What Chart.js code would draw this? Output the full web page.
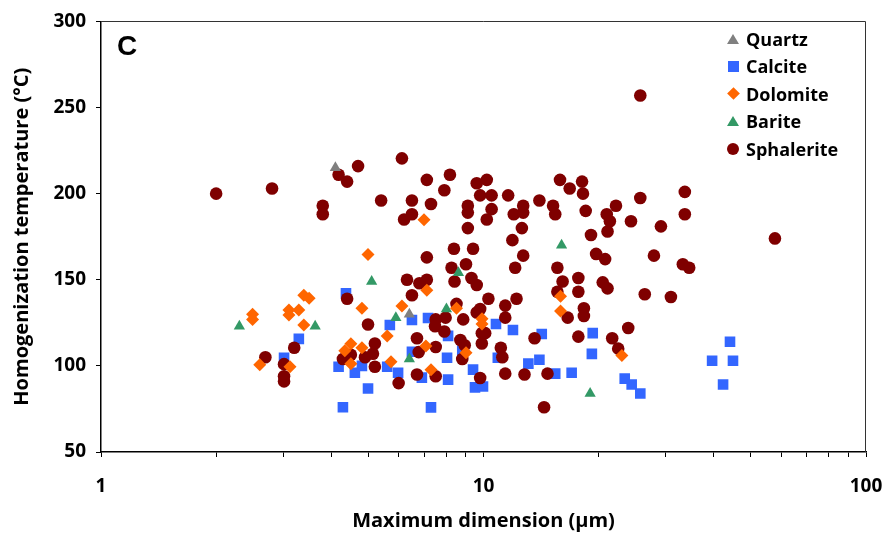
<!DOCTYPE html>
<html>
<head>
<meta charset="utf-8">
<script src="https://cdn.jsdelivr.net/npm/chart.js@4.4.0/dist/chart.umd.min.js"></script>
<style>
  html, body { margin: 0; padding: 0; background: #fff; }
  #wrap { position: relative; width: 886px; height: 538px; }
  #panel { position: absolute; left: 117px; top: 30px; line-height: 1; font: bold 28px "Liberation Sans", Arial, sans-serif; color: #000; }
  #legend { position: absolute; left: 726px; top: 25px; font: bold 18px "Open Sans", sans-serif; color: #000; }
  .item { display: flex; align-items: center; height: 27.5px; }
  .mk { width: 14px; height: 14px; margin-right: 6px; position: relative; }
  .mk div { position: absolute; }
</style>
</head>
<body>
<div id="wrap">
  <canvas id="chart" width="886" height="538"></canvas>
  <div id="panel">C</div>
  <div id="legend"></div>
</div>
<script>
// series names and colours
const mineralNames = ['Quartz', 'Calcite', 'Dolomite', 'Barite', 'Sphalerite'];

// Quartz
const quartzX = [4.1, 6.4];
const quartzY = [215, 130];

// Calcite
const calciteX = [3.29, 3.01, 4.37, 4.18, 4.61, 4.99, 4.29, 4.81, 5.69, 6.5, 7.16, 8.08, 10.78, 11.94, 14.2, 6.5, 8.03, 8.8, 10.9, 13.1,
  14.0, 5.6, 5.98, 6.9, 8.08, 9.39, 9.5, 9.97, 15.4, 17.0, 7.29, 19.3, 19.2, 23.4, 24.4, 25.7, 44.1, 39.6, 44.9, 42.3];
const calciteY = [115.7, 104.7, 142.2, 99.5, 96, 86.9, 76, 100, 123.7, 126.6, 127.8, 117.4, 124.3, 120.8, 118.5, 108.2, 104.7, 108.8, 104.7, 101.3,
  103.6, 99.5, 96, 93.2, 92, 97.8, 87.5, 88, 95.5, 96, 75.9, 119, 107, 92.6, 89.2, 84, 114, 103, 103, 89.2];

// Dolomite
const dolomiteX = [2.49, 2.49, 2.6, 3.1, 3.1, 3.29, 3.39, 3.5, 3.39, 3.12, 4.99, 4.81, 4.5, 4.81, 4.5, 4.34, 6.12, 5.6, 5.73, 7.07,
  7.29, 9.91, 9.91, 9.0, 8.5, 15.9, 15.9, 6.99, 7.11, 23.0];
const dolomiteY = [130, 127, 100.7, 132.4, 129.5, 132.4, 141, 139.3, 123.7, 99.5, 164.6, 133.5, 112.8, 110.5, 101.3, 108.8, 134.7, 117.4, 102.4, 111.6,
  97.8, 127.3, 124.3, 107.6, 133.5, 140.4, 131.8, 184.8, 143.9, 106];

// Barite
const bariteX = [2.3, 3.63, 5.1, 5.9, 8.0, 6.4, 8.6, 16.0, 19.0];
const bariteY = [123, 123, 149, 128, 133, 104, 154, 170, 84];

// Sphalerite
const sphaleriteX = [2.0, 2.8, 2.69, 3.01, 3.01, 3.01, 3.2, 3.8, 3.8, 4.18, 4.4, 4.7, 5.4, 4.4, 4.99, 4.29, 4.5, 4.9, 5.14, 5.2,
  5.2, 6.5, 8.5, 9.6, 9.8, 10.3, 11.4, 11.4, 12.2, 7.5, 7.96, 7.47, 7.9, 8.85, 6.7, 6.77, 7.5, 8.7, 8.93, 8.8,
  9.9, 10.1, 9.9, 11.1, 11.2, 13.6, 6.7, 7.5, 9.8, 11.4, 12.8, 14.7, 6.0, 14.4, 15.6, 16.6, 17.7, 6.12, 7.11, 8.17,
  7.9, 9.6, 10.2, 9.8, 10.5, 11.6, 14.0, 15.85, 16.8, 15.2, 15.4, 6.5, 7.29, 6.2, 6.5, 9.1, 9.1, 10.5, 10.2, 12.7,
  12.0, 12.7, 9.1, 12.6, 11.9, 12.7, 12.1, 8.37, 9.39, 7.11, 9.0, 8.25, 8.4, 9.3, 9.6, 6.31, 6.8, 7.11, 15.6, 16.1,
  17.7, 17.7, 18.1, 18.2, 18.5, 19.1, 21.0, 22.2, 21.4, 21.1, 25.7, 24.3, 29.1, 33.6, 33.6, 19.7, 20.8, 27.9, 33.2, 34.5,
  20.5, 21.1, 26.4, 30.9, 18.3, 18.3, 21.7, 23.9, 22.5, 25.7, 57.8];
const sphaleriteY = [200, 203, 105, 101, 94, 91, 110.5, 193, 188, 211, 207, 216, 196, 139, 124, 104, 106.5, 105, 107, 113,
  99.5, 141, 136, 131, 133, 139, 135, 128, 139, 127, 128, 123, 120, 127, 116, 108, 111, 115, 112, 104,
  119, 119, 113, 110.5, 105, 116, 95, 94, 93, 95.5, 95, 95.5, 90, 76, 143, 128, 117, 220.5, 208, 211,
  202, 206, 208, 199, 199, 199, 196, 208, 203, 193, 188, 196, 194, 185, 188, 193, 189, 191, 185, 193,
  188, 189, 180, 180, 173, 164, 157, 168, 168, 163, 159, 157, 149, 151, 147, 150, 148, 150, 157, 149,
  151, 143, 207, 200, 190, 176, 188, 193, 184, 178, 197.5, 184, 181, 201, 188, 165, 162, 164, 159, 157,
  148.5, 145, 141.6, 140, 133.5, 129, 116, 122, 110, 257, 174];

// axis ticks
const xTickValues = [1, 2, 3, 4, 5, 6, 7, 8, 9, 10, 20, 30, 40, 50, 60, 70, 80, 90, 100];
const xTickLabels = [1, 10, 100];
const yTickValues = [50, 100, 150, 200, 250, 300];

const toPoints = (xs, ys) => xs.map((x, i) => ({ x: x, y: ys[i] }));

const datasets = [
    { label: 'Quartz', data: toPoints(quartzX, quartzY), pointStyle: 'triangle', pointRadius: 6.5, backgroundColor: '#808080', order: 0 },
    { label: 'Calcite', data: toPoints(calciteX, calciteY), pointStyle: 'rect', pointRadius: 7.5, backgroundColor: '#3366ff', order: 4 },
    { label: 'Dolomite', data: toPoints(dolomiteX, dolomiteY), pointStyle: 'rectRot', pointRadius: 6.5, backgroundColor: '#ff6600', order: 2 },
    { label: 'Barite', data: toPoints(bariteX, bariteY), pointStyle: 'triangle', pointRadius: 6.5, backgroundColor: '#339966', order: 1 },
    { label: 'Sphalerite', data: toPoints(sphaleriteX, sphaleriteY), pointStyle: 'circle', pointRadius: 6.3, backgroundColor: '#7f0000', order: 3 }
];
datasets.forEach(d => {
    d.borderWidth = 0;
    d.pointBorderWidth = 0;
    d.pointHoverRadius = d.pointRadius;
});

const tickFont = { family: '"Open Sans", sans-serif', size: 19, weight: 'bold' };
const titleFont = { family: '"Open Sans", sans-serif', size: 20, weight: 'bold' };

// top and right edges of the plot box
const framePlugin = {
    id: 'frame',
    afterDraw(chart) {
        const a = chart.chartArea;
        const ctx = chart.ctx;
        ctx.save();
        ctx.strokeStyle = '#333';
        ctx.lineWidth = 1;
        ctx.beginPath();
        ctx.moveTo(a.left, Math.round(a.top) + 0.5);
        ctx.lineTo(Math.round(a.right) - 0.5, Math.round(a.top) + 0.5);
        ctx.lineTo(Math.round(a.right) - 0.5, a.bottom);
        ctx.stroke();
        ctx.restore();
    }
};

const chart = new Chart(document.getElementById('chart').getContext('2d'), {
    type: 'scatter',
    data: { datasets: datasets },
    plugins: [framePlugin],
    options: {
        responsive: false,
        animation: false,
        devicePixelRatio: 1,
        layout: { padding: { top: 18, right: 20, left: 0, bottom: 0 } },
        plugins: {
            legend: { display: false },
            tooltip: { enabled: false }
        },
        scales: {
            x: {
                type: 'logarithmic',
                min: 1,
                max: 100,
                afterBuildTicks: s => { s.ticks = xTickValues.map(v => ({ value: v })); },
                afterFit: s => { s.height = 86; s.paddingLeft = 0; s.paddingRight = 0; },
                ticks: {
                    autoSkip: false,
                    maxRotation: 0,
                    color: '#000',
                    font: tickFont,
                    padding: 18,
                    callback: v => xTickLabels.includes(v) ? String(v) : ''
                },
                grid: { drawOnChartArea: false, drawTicks: true, tickLength: 5, color: '#000', lineWidth: 1 },
                border: { display: true, color: '#000', width: 1.5 },
                title: { display: true, text: 'Maximum dimension (\u03bcm)', color: '#000', font: titleFont, padding: { top: 0, bottom: 5 } }
            },
            y: {
                min: 50,
                max: 300,
                afterBuildTicks: s => { s.ticks = yTickValues.map(v => ({ value: v })); },
                afterFit: s => { s.width = 101; },
                ticks: { color: '#000', font: tickFont, padding: 10 },
                grid: { drawOnChartArea: false, drawTicks: true, tickLength: 5, color: '#000', lineWidth: 1 },
                border: { display: true, color: '#000', width: 1.5 },
                title: { display: true, text: 'Homogenization temperature (\u00b0C)', color: '#000', font: titleFont, padding: { top: 10, bottom: 0 } }
            }
        }
    }
});

// legend in the upper right corner, built from the datasets
const legendEl = document.getElementById('legend');
mineralNames.forEach(name => {
    const ds = datasets.find(d => d.label === name);
    const row = document.createElement('div');
    row.className = 'item';
    const mk = document.createElement('div');
    mk.className = 'mk';
    const shape = document.createElement('div');
    const c = ds.backgroundColor;
    if (ds.pointStyle === 'triangle') {
        shape.style.cssText = 'left:1px;top:2px;width:0;height:0;border-left:6px solid transparent;border-right:6px solid transparent;border-bottom:10px solid ' + c;
    } else if (ds.pointStyle === 'rect') {
        shape.style.cssText = 'left:1.5px;top:1.5px;width:11px;height:11px;background:' + c;
    } else if (ds.pointStyle === 'rectRot') {
        shape.style.cssText = 'left:2.5px;top:2.5px;width:9px;height:9px;transform:rotate(45deg);background:' + c;
    } else {
        shape.style.cssText = 'left:1px;top:1px;width:12px;height:12px;border-radius:50%;background:' + c;
    }
    mk.appendChild(shape);
    const label = document.createElement('span');
    label.textContent = name;
    row.appendChild(mk);
    row.appendChild(label);
    legendEl.appendChild(row);
});
</script>
</body>
</html>
